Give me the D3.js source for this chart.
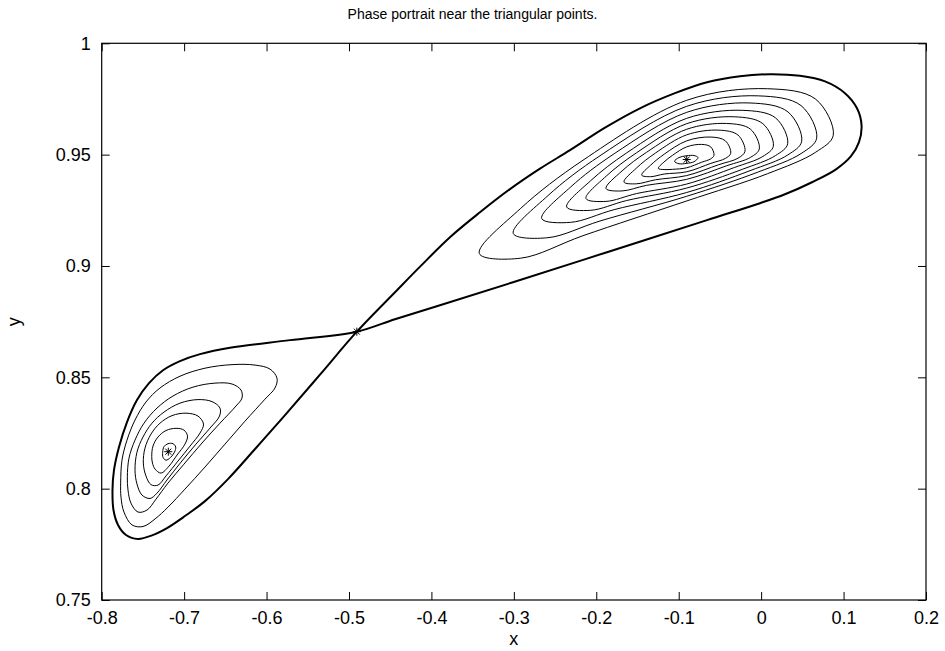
<!DOCTYPE html>
<html><head><meta charset="utf-8">
<script src="https://cdn.jsdelivr.net/npm/d3@7"></script>
<style>
body{margin:0;background:#fff;}
text{font-family:"Liberation Sans",Arial,Helvetica,sans-serif;fill:#000;}
</style>
</head><body>
<svg id="chart" width="945" height="651"></svg>
<script>
// ---------------- data ----------------
const title = "Phase portrait near the triangular points.";
const xLabel = "x";
const yLabel = "y";
const xDomain = [-0.8, 0.2];
const yDomain = [0.75, 1.0];
const xTicks = [-0.8, -0.7, -0.6, -0.5, -0.4, -0.3, -0.2, -0.1, 0, 0.1, 0.2];
const xTickLabels = ["-0.8", "-0.7", "-0.6", "-0.5", "-0.4", "-0.3", "-0.2", "-0.1", "0", "0.1", "0.2"];
const yTicks = [0.75, 0.8, 0.85, 0.9, 0.95, 1.0];
const yTickLabels = ["0.75", "0.8", "0.85", "0.9", "0.95", "1"];

// equilibrium points (two centres and the saddle), drawn as asterisks
const fixedPoints = [[-0.7192, 0.8166], [-0.4905, 0.8705], [-0.0903, 0.9478]];

// separatrix: figure-eight through the saddle (right loop, then left loop)
const separatrix = [
  [-0.4905, 0.8705],
  [-0.4418, 0.8891], [-0.4138, 0.8997], [-0.3775, 0.9129], [-0.3411, 0.9241],
  [-0.3047, 0.9345], [-0.2683, 0.9437], [-0.2319, 0.9520], [-0.1894, 0.9621],
  [-0.1470, 0.9708], [-0.1045, 0.9776], [-0.0657, 0.9825], [-0.0256, 0.9852],
  [0.0107, 0.9861], [0.0471, 0.9854], [0.0775, 0.9829], [0.1017, 0.9776],
  [0.1163, 0.9708], [0.1218, 0.9632], [0.1187, 0.9556], [0.1090, 0.9493],
  [0.0908, 0.9434], [0.0617, 0.9376], [0.0289, 0.9322], [-0.0014, 0.9282],
  [-0.0657, 0.9206], [-0.1870, 0.9062], [-0.3010, 0.8927], [-0.3896, 0.8824],
  [-0.4442, 0.8761],
  [-0.4905, 0.8705],
  [-0.5716, 0.8667], [-0.6444, 0.8633], [-0.6807, 0.8604], [-0.7050, 0.8573],
  [-0.7256, 0.8532], [-0.7426, 0.8474], [-0.7572, 0.8398], [-0.7693, 0.8299],
  [-0.7790, 0.8187], [-0.7851, 0.8083], [-0.7869, 0.7994], [-0.7857, 0.7904],
  [-0.7802, 0.7837], [-0.7705, 0.7792], [-0.7560, 0.7774], [-0.7390, 0.7790],
  [-0.7208, 0.7823], [-0.6990, 0.7877], [-0.6747, 0.7944], [-0.6468, 0.8043],
  [-0.6140, 0.8178], [-0.5776, 0.8330], [-0.5352, 0.8512]
];

// closed orbits around the left centre (innermost first)
const leftOrbits = [
  [[-0.7260,0.8164],[-0.7244,0.8189],[-0.7196,0.8202],[-0.7135,0.8202],[-0.7102,0.8187],[-0.7117,0.8164],[-0.7165,0.8140],[-0.7220,0.8128],[-0.7256,0.8140]],
  [[-0.7393,0.8144],[-0.7378,0.8191],[-0.7317,0.8232],[-0.7220,0.8261],[-0.7099,0.8271],[-0.7002,0.8263],[-0.6959,0.8236],[-0.6990,0.8200],[-0.7086,0.8151],[-0.7184,0.8101],[-0.7281,0.8070],[-0.7353,0.8088],[-0.7384,0.8115]],
  [[-0.7495,0.8115],[-0.7475,0.8182],[-0.7402,0.8245],[-0.7293,0.8294],[-0.7147,0.8328],[-0.6977,0.8339],[-0.6832,0.8326],[-0.6765,0.8290],[-0.6807,0.8250],[-0.6929,0.8191],[-0.7074,0.8124],[-0.7220,0.8057],[-0.7317,0.8016],[-0.7402,0.8018],[-0.7463,0.8057]],
  [[-0.7596,0.8083],[-0.7572,0.8164],[-0.7499,0.8232],[-0.7390,0.8294],[-0.7244,0.8344],[-0.7050,0.8384],[-0.6832,0.8400],[-0.6662,0.8391],[-0.6565,0.8362],[-0.6571,0.8326],[-0.6686,0.8272],[-0.6856,0.8200],[-0.7038,0.8119],[-0.7208,0.8039],[-0.7329,0.7980],[-0.7414,0.7956],[-0.7511,0.7971],[-0.7572,0.8021]],
  [[-0.7689,0.8053],[-0.7669,0.8137],[-0.7596,0.8218],[-0.7487,0.8294],[-0.7329,0.8362],[-0.7135,0.8416],[-0.6892,0.8456],[-0.6625,0.8474],[-0.6419,0.8470],[-0.6310,0.8443],[-0.6298,0.8407],[-0.6371,0.8371],[-0.6565,0.8294],[-0.6783,0.8205],[-0.7002,0.8110],[-0.7196,0.8025],[-0.7341,0.7953],[-0.7450,0.7904],[-0.7560,0.7895],[-0.7645,0.7935],[-0.7681,0.7994]],
  [[-0.7770,0.8025],[-0.7754,0.8128],[-0.7693,0.8218],[-0.7596,0.8308],[-0.7463,0.8389],[-0.7293,0.8452],[-0.7050,0.8505],[-0.6747,0.8541],[-0.6419,0.8557],[-0.6140,0.8555],[-0.5958,0.8537],[-0.5873,0.8496],[-0.5898,0.8452],[-0.6019,0.8402],[-0.6262,0.8303],[-0.6504,0.8200],[-0.6747,0.8097],[-0.6990,0.7998],[-0.7196,0.7917],[-0.7353,0.7864],[-0.7499,0.7830],[-0.7632,0.7837],[-0.7730,0.7895],[-0.7766,0.7962]]
];

// closed orbits around the right centre (innermost first)
const rightOrbits = [
  [[-0.1051,0.9470],[-0.0996,0.9487],[-0.0903,0.9495],[-0.0815,0.9496],[-0.0766,0.9487],[-0.0815,0.9468],[-0.0903,0.9461],[-0.0996,0.9459]],
  [[-0.1248,0.9438],[-0.1178,0.9467],[-0.1075,0.9497],[-0.0903,0.9535],[-0.0721,0.9546],[-0.0612,0.9535],[-0.0572,0.9497],[-0.0612,0.9481],[-0.0721,0.9466],[-0.0903,0.9441],[-0.1075,0.9434],[-0.1178,0.9433]],
  [[-0.1449,0.9408],[-0.1340,0.9453],[-0.1176,0.9502],[-0.0903,0.9562],[-0.0609,0.9579],[-0.0434,0.9562],[-0.0369,0.9506],[-0.0434,0.9483],[-0.0609,0.9461],[-0.0903,0.9423],[-0.1176,0.9413],[-0.1340,0.9401]],
  [[-0.1664,0.9377],[-0.1512,0.9440],[-0.1283,0.9507],[-0.0903,0.9589],[-0.0514,0.9610],[-0.0281,0.9588],[-0.0196,0.9515],[-0.0281,0.9484],[-0.0514,0.9455],[-0.0903,0.9406],[-0.1283,0.9387],[-0.1512,0.9369]],
  [[-0.1882,0.9348],[-0.1687,0.9427],[-0.1392,0.9510],[-0.0903,0.9614],[-0.0419,0.9640],[-0.0128,0.9614],[-0.0022,0.9526],[-0.0128,0.9488],[-0.0419,0.9450],[-0.0903,0.9389],[-0.1392,0.9362],[-0.1687,0.9337]],
  [[-0.2125,0.9303],[-0.1881,0.9403],[-0.1513,0.9508],[-0.0903,0.9639],[-0.0326,0.9670],[0.0021,0.9639],[0.0148,0.9538],[0.0021,0.9492],[-0.0326,0.9442],[-0.0903,0.9368],[-0.1513,0.9325],[-0.1881,0.9290]],
  [[-0.2359,0.9265],[-0.2068,0.9383],[-0.1631,0.9508],[-0.0903,0.9663],[-0.0229,0.9699],[0.0175,0.9665],[0.0322,0.9549],[0.0175,0.9496],[-0.0229,0.9434],[-0.0903,0.9350],[-0.1631,0.9294],[-0.2068,0.9250]],
  [[-0.2662,0.9213],[-0.2310,0.9355],[-0.1783,0.9504],[-0.0903,0.9690],[-0.0135,0.9732],[0.0325,0.9692],[0.0492,0.9560],[0.0325,0.9499],[-0.0135,0.9428],[-0.0903,0.9330],[-0.1783,0.9253],[-0.2310,0.9196]],
  [[-0.3007,0.9146],[-0.2586,0.9316],[-0.1955,0.9495],[-0.0903,0.9717],[-0.0036,0.9764],[0.0485,0.9720],[0.0674,0.9574],[0.0485,0.9505],[-0.0036,0.9422],[-0.0903,0.9313],[-0.1955,0.9202],[-0.2586,0.9127]],
  [[-0.3419,0.9056],[-0.2916,0.9259],[-0.2161,0.9475],[-0.0903,0.9744],[0.0075,0.9796],[0.0662,0.9749],[0.0875,0.9587],[0.0662,0.9511],[0.0075,0.9414],[-0.0903,0.9292],[-0.2161,0.9136],[-0.2916,0.9035]]
];

// ---------------- drawing ----------------
const W = 945, H = 651;
const M = {left: 101.7, right: 926, top: 43.3, bottom: 600};
const svg = d3.select("#chart");
svg.append("rect").attr("width", W).attr("height", H).attr("fill", "#fff");

const x = d3.scaleLinear().domain(xDomain).range([M.left, M.right]);
const y = d3.scaleLinear().domain(yDomain).range([M.bottom, M.top]);

const closed = d3.line().x(d => x(d[0])).y(d => y(d[1])).curve(d3.curveCatmullRomClosed.alpha(0.5));

const g = svg.append("g");
g.selectAll("path.lo").data(leftOrbits).join("path").attr("class", "lo")
  .attr("d", closed).attr("fill", "none").attr("stroke", "#000").attr("stroke-width", 1);
g.selectAll("path.ro").data(rightOrbits).join("path").attr("class", "ro")
  .attr("d", closed).attr("fill", "none").attr("stroke", "#000").attr("stroke-width", 1);
g.append("path").datum(separatrix).attr("d", closed)
  .attr("fill", "none").attr("stroke", "#000").attr("stroke-width", 2);

// asterisk markers
const s = 4;
fixedPoints.forEach(p => {
  const cx = x(p[0]), cy = y(p[1]);
  const d = `M${cx-s},${cy}L${cx+s},${cy}M${cx},${cy-s}L${cx},${cy+s}` +
            `M${cx-s*0.75},${cy-s*0.75}L${cx+s*0.75},${cy+s*0.75}M${cx-s*0.75},${cy+s*0.75}L${cx+s*0.75},${cy-s*0.75}`;
  g.append("path").attr("d", d).attr("stroke", "#000").attr("stroke-width", 1).attr("fill", "none");
});

// axes (ticks inward, mirrored on top/right)
const fsTick = 18, fsTitle = 14;
const axB = d3.axisBottom(x).tickValues(xTicks).tickFormat((d, i) => xTickLabels[i]).tickSize(-8).tickSizeOuter(0).tickPadding(11);
const axT = d3.axisTop(x).tickValues(xTicks).tickFormat("").tickSize(-8).tickSizeOuter(0);
const axL = d3.axisLeft(y).tickValues(yTicks).tickFormat((d, i) => yTickLabels[i]).tickSize(-8).tickSizeOuter(0).tickPadding(11);
const axR = d3.axisRight(y).tickValues(yTicks).tickFormat("").tickSize(-8).tickSizeOuter(0);

function style(sel) {
  sel.selectAll("path.domain").remove();
  sel.selectAll("line").attr("stroke", "#000").attr("stroke-width", 1);
  sel.selectAll("text").attr("font-size", fsTick).attr("font-family", '"Liberation Sans", Arial, sans-serif').attr("fill", "#000");
}
svg.append("g").attr("transform", `translate(0,${M.bottom})`).call(axB).call(style);
svg.append("g").attr("transform", `translate(0,${M.top})`).call(axT).call(style);
svg.append("g").attr("transform", `translate(${M.left},0)`).call(axL).call(style);
svg.append("g").attr("transform", `translate(${M.right},0)`).call(axR).call(style);

svg.append("rect").attr("x", M.left).attr("y", M.top)
  .attr("width", M.right - M.left).attr("height", M.bottom - M.top)
  .attr("fill", "none").attr("stroke", "#000").attr("stroke-width", 1.2);

svg.append("text").attr("x", W / 2).attr("y", 19).attr("text-anchor", "middle")
  .attr("font-size", fsTitle).text(title);
svg.append("text").attr("x", (M.left + M.right) / 2).attr("y", 645).attr("text-anchor", "middle")
  .attr("font-size", fsTick).text(xLabel);
svg.append("text").attr("transform", `translate(20,${(M.top + M.bottom) / 2}) rotate(-90)`)
  .attr("text-anchor", "middle").attr("font-size", fsTick).text(yLabel);
</script>
</body></html>
